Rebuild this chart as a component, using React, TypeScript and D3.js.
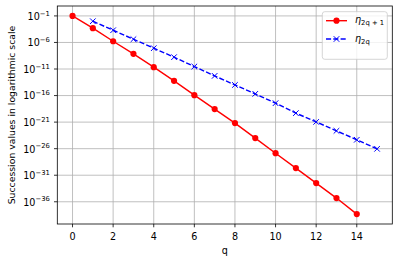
import { useEffect, useRef } from 'react';
import * as d3 from 'd3';

// eta_{2q+1}, q = 0..14
const qOdd = [0, 1, 2, 3, 4, 5, 6, 7, 8, 9, 10, 11, 12, 13, 14];
const etaOdd = [
  1e-1, 4.9e-4, 1.7e-6, 7.1e-9, 2.2e-11, 5.9e-14, 1.2e-16, 2.8e-19,
  6.5e-22, 9.8e-25, 1.4e-27, 2.2e-30, 3.3e-33, 5.0e-36, 4.8e-39,
];

// eta_{2q}, q = 1..15
const qEven = [1, 2, 3, 4, 5, 6, 7, 8, 9, 10, 11, 12, 13, 14, 15];
const etaEven = [
  1e-2, 2.0e-4, 4.1e-6, 8.3e-8, 1.7e-9, 2.9e-11, 5.1e-13, 1.0e-14,
  2.1e-16, 3.7e-18, 4.9e-20, 1.1e-21, 2.3e-23, 4.7e-25, 9.3e-27,
];

const xTicks = [0, 2, 4, 6, 8, 10, 12, 14];
const yTickExps = [-1, -6, -11, -16, -21, -26, -31, -36];

const W = 399;
const H = 262;
const FONT = 'DejaVu Sans, sans-serif';
const FS = '9.6px';
const FS_SMALL = '6.8px';

export default function App() {
  const svgRef = useRef<SVGSVGElement>(null);

  useEffect(() => {
    if (!svgRef.current) return;
    const svg = d3.select(svgRef.current);
    svg.selectAll('*').remove();

    const plot = { left: 57.3, right: 392.3, top: 6, bottom: 224 };

    // matplotlib-style 5% margins (log space for y)
    const allQ = [...qOdd, ...qEven];
    const qMin = d3.min(allQ)!;
    const qMax = d3.max(allQ)!;
    const qPad = (qMax - qMin) * 0.05;
    const logs = [...etaOdd, ...etaEven].map(v => Math.log10(v));
    const lMin = d3.min(logs)!;
    const lMax = d3.max(logs)!;
    const lPad = (lMax - lMin) * 0.05;

    const x = d3.scaleLinear()
      .domain([qMin - qPad, qMax + qPad])
      .range([plot.left, plot.right]);
    const y = d3.scaleLog()
      .domain([Math.pow(10, lMin - lPad), Math.pow(10, lMax + lPad)])
      .range([plot.bottom, plot.top]);

    const grid = svg.append('g').attr('stroke', '#b0b0b0').attr('stroke-width', 0.8);
    grid.selectAll('.gx').data(xTicks).enter().append('line')
      .attr('x1', d => x(d)).attr('x2', d => x(d))
      .attr('y1', plot.top).attr('y2', plot.bottom);
    grid.selectAll('.gy').data(yTickExps).enter().append('line')
      .attr('x1', plot.left).attr('x2', plot.right)
      .attr('y1', d => y(Math.pow(10, d))).attr('y2', d => y(Math.pow(10, d)));

    // x axis ticks
    const xt = svg.append('g');
    xt.selectAll('line').data(xTicks).enter().append('line')
      .attr('x1', d => x(d)).attr('x2', d => x(d))
      .attr('y1', plot.bottom).attr('y2', plot.bottom + 3.3)
      .attr('stroke', '#000').attr('stroke-width', 0.8);
    xt.selectAll('text').data(xTicks).enter().append('text')
      .attr('x', d => x(d)).attr('y', plot.bottom + 15.8)
      .attr('text-anchor', 'middle')
      .style('font-family', FONT).style('font-size', FS)
      .text(d => String(d));

    // y axis ticks
    const yt = svg.append('g');
    yt.selectAll('line').data(yTickExps).enter().append('line')
      .attr('x1', plot.left - 3.3).attr('x2', plot.left)
      .attr('y1', d => y(Math.pow(10, d))).attr('y2', d => y(Math.pow(10, d)))
      .attr('stroke', '#000').attr('stroke-width', 0.8);
    const ylab = yt.selectAll('text').data(yTickExps).enter().append('text')
      .attr('x', plot.left - 7.5).attr('y', d => y(Math.pow(10, d)) + 3.9)
      .attr('text-anchor', 'end')
      .style('font-family', FONT).style('font-size', FS);
    ylab.append('tspan').text('10');
    ylab.append('tspan').attr('dy', -4.2).style('font-size', FS_SMALL)
      .text(d => '\u2212' + Math.abs(d));

    // series
    const line = d3.line<[number, number]>().x(d => x(d[0])).y(d => y(d[1]));
    const oddPts = qOdd.map((q, i) => [q, etaOdd[i]] as [number, number]);
    const evenPts = qEven.map((q, i) => [q, etaEven[i]] as [number, number]);

    svg.append('path').datum(oddPts)
      .attr('fill', 'none').attr('stroke', '#ff0000').attr('stroke-width', 1.4)
      .attr('d', line);
    svg.selectAll('.dot').data(oddPts).enter().append('circle')
      .attr('cx', d => x(d[0])).attr('cy', d => y(d[1])).attr('r', 3.1)
      .attr('fill', '#ff0000');

    svg.append('path').datum(evenPts)
      .attr('fill', 'none').attr('stroke', '#0000ff').attr('stroke-width', 1.4)
      .attr('stroke-dasharray', '5.1,2.2')
      .attr('d', line);
    const cross = (cx: number, cy: number, s: number) =>
      `M${cx - s},${cy - s}L${cx + s},${cy + s}M${cx - s},${cy + s}L${cx + s},${cy - s}`;
    svg.selectAll('.xm').data(evenPts).enter().append('path')
      .attr('d', d => cross(x(d[0]), y(d[1]), 2.8))
      .attr('fill', 'none').attr('stroke', '#0000ff').attr('stroke-width', 1);

    // frame
    svg.append('rect')
      .attr('x', plot.left).attr('y', plot.top)
      .attr('width', plot.right - plot.left).attr('height', plot.bottom - plot.top)
      .attr('fill', 'none').attr('stroke', '#000').attr('stroke-width', 0.8);

    // axis labels
    svg.append('text')
      .attr('x', (plot.left + plot.right) / 2).attr('y', 254)
      .attr('text-anchor', 'middle')
      .style('font-family', FONT).style('font-size', FS)
      .text('q');
    svg.append('text')
      .attr('transform', `translate(15,${(plot.top + plot.bottom) / 2}) rotate(-90)`)
      .attr('text-anchor', 'middle')
      .style('font-family', FONT).style('font-size', '9.3px')
      .text('Succession values in logarithmic scale');

    // legend
    const lg = svg.append('g');
    lg.append('rect')
      .attr('x', 322.3).attr('y', 11.7).attr('width', 65).attr('height', 47.6)
      .attr('rx', 2.5)
      .attr('fill', '#fff').attr('fill-opacity', 0.8)
      .attr('stroke', '#cccccc').attr('stroke-width', 0.8);
    const entries = [
      { color: '#ff0000', dash: null, marker: 'o', sub: '2q + 1', yy: 20.7 },
      { color: '#0000ff', dash: '5.1,2.2', marker: 'x', sub: '2q', yy: 39 },
    ];
    entries.forEach(e => {
      lg.append('line')
        .attr('x1', 326).attr('x2', 347).attr('y1', e.yy).attr('y2', e.yy)
        .attr('stroke', e.color).attr('stroke-width', 1.4)
        .attr('stroke-dasharray', e.dash);
      if (e.marker === 'o') {
        lg.append('circle').attr('cx', 336.5).attr('cy', e.yy).attr('r', 3.1).attr('fill', e.color);
      } else {
        lg.append('path').attr('d', cross(336.5, e.yy, 2.8))
          .attr('stroke', e.color).attr('stroke-width', 1).attr('fill', 'none');
      }
      const t = lg.append('text')
        .attr('x', 355).attr('y', e.yy + 2.5)
        .style('font-family', FONT).style('font-size', FS);
      t.append('tspan').style('font-style', 'italic').text('\u03b7');
      t.append('tspan').attr('dy', 2.2).style('font-size', FS_SMALL)
        .text(e.sub);
    });
  }, []);

  return (
    <svg
      ref={svgRef}
      width={W}
      height={H}
      style={{ position: 'absolute', left: 0, top: 0, background: '#fff' }}
    />
  );
}
